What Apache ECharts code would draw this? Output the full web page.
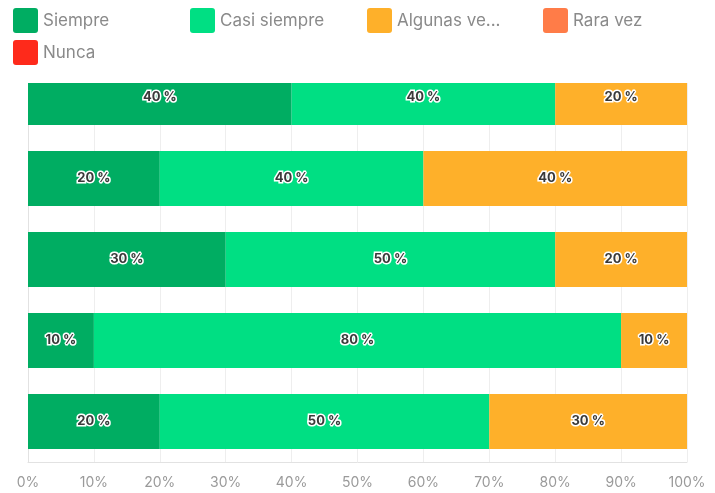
<!DOCTYPE html>
<html>
<head>
<meta charset="utf-8">
<script src="https://cdn.jsdelivr.net/npm/echarts@6/dist/echarts.min.js"></script>
<style>
  html, body { margin: 0; padding: 0; background: #fff; }
  #chart { width: 715px; height: 493px; }
</style>
</head>
<body>
<div id="chart"></div>
<script>
var categories = ["Pregunta 1", "Pregunta 2", "Pregunta 3", "Pregunta 4", "Pregunta 5"];
var seriesNames = ["Siempre", "Casi siempre", "Algunas veces", "Rara vez", "Nunca"];
var siempre = [40, 20, 30, 10, 20];
var casiSiempre = [40, 40, 50, 80, 50];
var algunasVeces = [20, 40, 20, 10, 30];
var raraVez = [0, 0, 0, 0, 0];
var nunca = [0, 0, 0, 0, 0];
var xTicks = [0, 10, 20, 30, 40, 50, 60, 70, 80, 90, 100];

var colors = ["#00ad62", "#00df83", "#feb02a", "#ff7c48", "#fe2a1b"];
var values = [siempre, casiSiempre, algunasVeces, raraVez, nunca];

var chart = echarts.init(document.getElementById("chart"));

var series = [];
for (var i = 0; i < seriesNames.length; i++) {
  series.push({
    name: seriesNames[i],
    type: "bar",
    stack: "total",
    barWidth: 55,
    itemStyle: { color: colors[i] },
    label: {
      show: true,
      position: "inside",
      formatter: function (p) { return p.value > 0 ? p.value + " %" : ""; },
      color: "#3a3a3a",
      fontFamily: "Inter",
      fontWeight: "bold",
      fontSize: 13,
      textBorderColor: "#fff",
      textBorderWidth: 3
    },
    data: values[i]
  });
}

// one legend per item so they sit on a fixed grid like the original
var legendPos = [[8, 3], [185, 3], [362, 3], [538, 3], [8, 35]];
var legends = [];
for (var j = 0; j < seriesNames.length; j++) {
  legends.push({
    data: [seriesNames[j]],
    left: legendPos[j][0],
    top: legendPos[j][1],
    z: 20,
    icon: "path://M3,0 L22,0 Q25,0 25,3 L25,22 Q25,25 22,25 L3,25 Q0,25 0,22 L0,3 Q0,0 3,0 Z",
    itemWidth: 25,
    itemHeight: 25,
    textStyle: {
      color: "#8a8a8a",
      fontFamily: "Inter",
      fontSize: 17,
      width: 108,
      overflow: "truncate",
      ellipsis: "..."
    }
  });
}

var option = {
  animation: false,
  legend: legends,
  graphic: [
    {
      type: "rect",
      z: 10,
      shape: { x: 0, y: 0, width: 715, height: 83 },
      style: { fill: "#fff" }
    }
  ],
  grid: { left: 28, right: 28, top: 57, bottom: 31 },
  xAxis: {
    type: "value",
    min: xTicks[0],
    max: xTicks[xTicks.length - 1],
    interval: 10,
    axisLine: { show: true, lineStyle: { color: "#e2e2e2" } },
    axisTick: { show: false },
    splitLine: { show: true, lineStyle: { color: "#eeeeee" } },
    axisLabel: {
      formatter: "{value}%",
      color: "#9a9a9a",
      fontFamily: "Inter",
      fontSize: 14,
      margin: 14
    }
  },
  yAxis: {
    type: "category",
    inverse: true,
    data: categories,
    axisLine: { show: true, lineStyle: { color: "#e2e2e2" } },
    axisTick: { show: false },
    axisLabel: { show: false }
  },
  series: series
};

chart.setOption(option);
</script>
</body>
</html>
